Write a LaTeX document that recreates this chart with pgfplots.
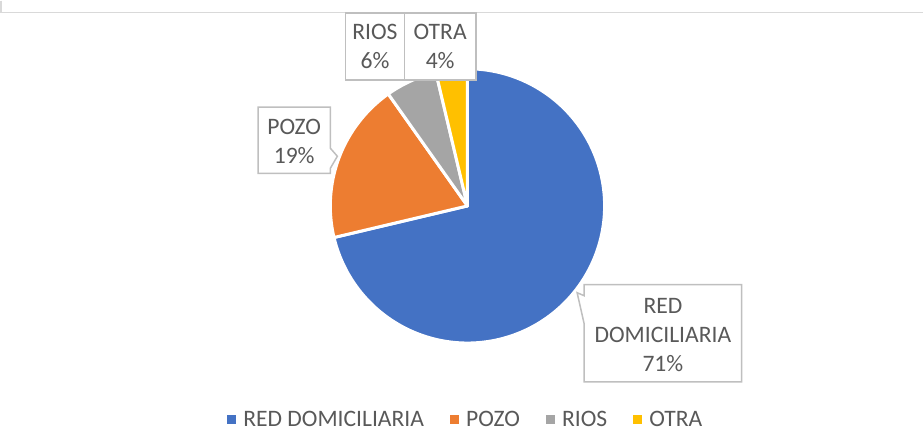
\documentclass[border=0pt]{standalone}
\usepackage{fontspec}
\setmainfont{Carlito}
\usepackage{pgfplots}
\pgfplotsset{compat=1.18}
\definecolor{cBlue}{HTML}{4472C4}
\definecolor{cOrange}{HTML}{ED7D31}
\definecolor{cGray}{HTML}{A5A5A5}
\definecolor{cGold}{HTML}{FFC000}
\definecolor{txt}{HTML}{595959}
\definecolor{brd}{HTML}{D9D9D9}
\definecolor{cbrd}{HTML}{BFBFBF}
% values (percent)
\def\vA{71.3}\def\vB{18.9}\def\vC{6.1}\def\vD{3.7}
\def\cx{469.7}\def\cy{248.5}\def\rr{136.7}
\pgfmathsetmacro{\aA}{90}
\pgfmathsetmacro{\aB}{\aA-3.6*\vA}
\pgfmathsetmacro{\aC}{\aB-3.6*\vB}
\pgfmathsetmacro{\aD}{\aC-3.6*\vC}
\pgfmathsetmacro{\aE}{\aD-3.6*\vD}
\begin{document}
\begin{tikzpicture}
\begin{axis}[
  scale only axis, width=924pt, height=453pt,
  xmin=0, xmax=924, ymin=0, ymax=453,
  hide axis, clip=false,
  legend columns=4,
  legend image code/.code={\fill[#1,draw=none] (0pt,-4.5pt) rectangle (9pt,4.5pt);},
  legend style={at={(axis cs:468,36)}, anchor=center, draw=none, fill=none,
    font=\fontsize{23.5}{29}\selectfont, text=txt,
    nodes={inner sep=2pt},
    /tikz/every odd column/.append style={column sep=5pt},
    /tikz/every even column/.append style={column sep=24pt}},
]
% chart border (cropped)
\draw[brd, line width=1.5pt] (axis cs:4.5,453) -- (axis cs:4.5,441.5) -- (axis cs:924,441.5);
\addplot[fill=cBlue, draw=white, line width=3pt, line join=round, domain=\aB:\aA, samples=150, variable=\t]
  ({\cx+\rr*cos(\t)},{\cy+\rr*sin(\t)}) -- (axis cs:\cx,\cy) -- cycle;
\addplot[fill=cOrange, draw=white, line width=3pt, line join=round, domain=\aC:\aB, samples=60, variable=\t]
  ({\cx+\rr*cos(\t)},{\cy+\rr*sin(\t)}) -- (axis cs:\cx,\cy) -- cycle;
\addplot[fill=cGray, draw=white, line width=3pt, line join=round, domain=\aD:\aC, samples=30, variable=\t]
  ({\cx+\rr*cos(\t)},{\cy+\rr*sin(\t)}) -- (axis cs:\cx,\cy) -- cycle;
\addplot[fill=cGold, draw=white, line width=3pt, line join=round, domain=\aE:\aD, samples=30, variable=\t]
  ({\cx+\rr*cos(\t)},{\cy+\rr*sin(\t)}) -- (axis cs:\cx,\cy) -- cycle;
\legend{RED DOMICILIARIA, POZO, RIOS, OTRA}
% callouts
\draw[cbrd, line width=1.5pt, fill=white] (axis cs:261,347) -- (axis cs:333,347) -- (axis cs:333,306) -- (axis cs:340,298) -- (axis cs:333,286) -- (axis cs:333,281) -- (axis cs:261,281) -- cycle;
\node[text=txt, align=center, font=\fontsize{23.5}{29}\selectfont] at (axis cs:297,313) {POZO\\19\%};
\draw[cbrd, line width=1.5pt, fill=white] (axis cs:348,441) rectangle (axis cs:407,374);
\draw[cbrd, line width=1.5pt, fill=white] (axis cs:407,441) rectangle (axis cs:478,374);
\node[text=txt, align=center, font=\fontsize{23.5}{29}\selectfont] at (axis cs:377.5,407.5) {RIOS\\6\%};
\node[text=txt, align=center, font=\fontsize{23.5}{29}\selectfont] at (axis cs:442.5,407.5) {OTRA\\4\%};
\draw[cbrd, line width=1.5pt, fill=white] (axis cs:586,170) -- (axis cs:743,170) -- (axis cs:743,73) -- (axis cs:586,73) -- (axis cs:586,131) -- (axis cs:579,162) -- (axis cs:586,159) -- cycle;
\node[text=txt, align=center, font=\fontsize{23.5}{29}\selectfont] at (axis cs:664.5,119.5) {RED\\DOMICILIARIA\\71\%};
\end{axis}
\end{tikzpicture}
\end{document}
